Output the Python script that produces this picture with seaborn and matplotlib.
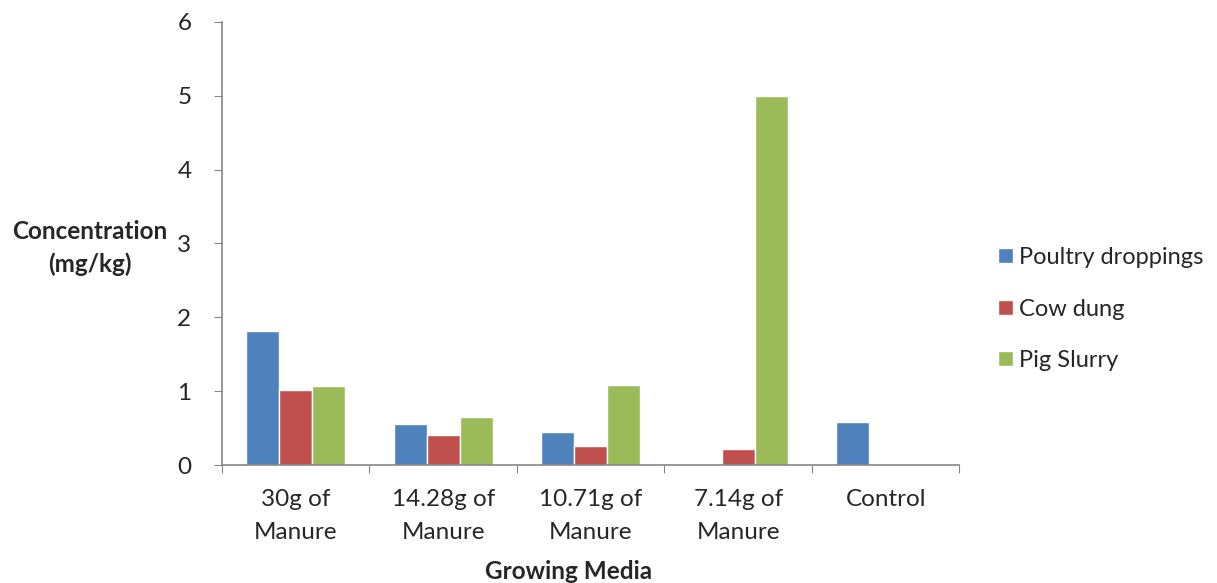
import numpy as np
import pandas as pd
import seaborn as sns
import matplotlib.pyplot as plt

media = ['30g of\nManure', '14.28g of\nManure', '10.71g of\nManure', '7.14g of\nManure', 'Control']
poultry = [1.82, 0.56, 0.45, 0.0, 0.58]
cow_dung = [1.01, 0.40, 0.26, 0.22, 0.0]
pig_slurry = [1.07, 0.65, 1.09, 5.0, 0.0]
series = ['Poultry droppings', 'Cow dung', 'Pig Slurry']
colors = ['#4F81BD', '#C0504D', '#9BBB59']

df = pd.DataFrame({'media': media * 3,
                   'source': [s for s in series for _ in media],
                   'value': poultry + cow_dung + pig_slurry})

sns.set_style('white')
plt.rcParams['font.family'] = ['Lato', 'DejaVu Sans']
fs = 17.5

fig = plt.figure(figsize=(12.17, 5.83), dpi=100)
ax = fig.add_axes([0.1824, 0.2024, 0.606, 0.76])
sns.barplot(data=df, x='media', y='value', hue='source', palette=colors,
            width=0.67, saturation=1, ax=ax, errorbar=None)

ax.set_ylim(0, 6)
ax.set_xlim(-0.5, 4.5)
ax.set_yticks(range(7))
ax.tick_params(axis='y', labelsize=fs, length=6, color='#868686', direction='out', left=True, pad=16)
ax.set_xticks(np.arange(-0.5, 5, 1))
ax.set_xticklabels([''] * 6)
ax.tick_params(axis='x', length=6, color='#868686', direction='out', bottom=True)
for i, lab in enumerate(media):
    ax.text(i, -0.32, lab, ha='center', va='top', fontsize=fs, linespacing=1.7)
for s in ['top', 'right']:
    ax.spines[s].set_visible(False)
for s in ['left', 'bottom']:
    ax.spines[s].set_color('#868686')
    ax.spines[s].set_linewidth(1.2)

ax.set_xlabel('')
ax.set_ylabel('')
fig.text(0.074, 0.575, 'Concentration\n(mg/kg)', ha='center', va='center',
         fontsize=fs, fontweight='bold', linespacing=1.5)
fig.text(0.467, 0.02, 'Growing Media', ha='center', va='center',
         fontsize=fs, fontweight='bold')

ax.legend(loc='center left', bbox_to_anchor=(1.024, 0.352), frameon=False,
          fontsize=17, handlelength=0.6, handleheight=0.6, labelspacing=1.3,
          handletextpad=0.25)

fig.savefig('out.png', dpi=100)
